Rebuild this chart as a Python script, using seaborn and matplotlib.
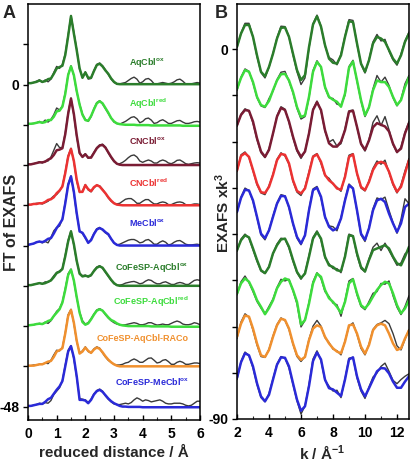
import numpy as np
import matplotlib
matplotlib.use("Agg")
import matplotlib.pyplot as plt
import seaborn as sns
from matplotlib.ticker import MultipleLocator

# ---------------- data ----------------
r_grid = [round(0.1 * i, 1) for i in range(61)]          # reduced distance / Å
k_grid = [2.0 + 0.25 * i for i in range(44)]             # k / Å^-1

labels_A = [r"AqCbl$^{\mathbf{ox}}$", r"AqCbl$^{\mathbf{red}}$", r"CNCbl$^{\mathbf{ox}}$",
            r"CNCbl$^{\mathbf{red}}$", r"MeCbl$^{\mathbf{ox}}$", r"CoFeSP-AqCbl$^{\mathbf{ox}}$",
            r"CoFeSP-AqCbl$^{\mathbf{red}}$", "CoFeSP-AqCbl-RACo", r"CoFeSP-MeCbl$^{\mathbf{ox}}$"]

# FT of EXAFS, fits (coloured) and experiment (black), relative to each baseline
ft_fit = [
 [0.2,0.2,0.3,0.4,0.6,0.4,0.5,0.8,0.9,1.6, 2.4,2.6,2.8,4.4,7.2,10.2,7.6,5.1,2.4,1.0,
  1.8,1.0,1.0,2.0,2.9,3.1,2.7,2.1,1.6,0.9, 0.4,0.1,0.05,0.05,0.05,0.05,0.05,0.05,0.05,0.05,
  0.05,0.05,0.05,0.05,0.05,0.05,0.05,0.05,0.05,0.05, 0.05,0.05,0.05,0.05,0.05,0.05,0.05,0.05,0.05,0.05, 0.05],
 [0.15,0.15,0.2,0.3,0.4,0.3,0.4,0.7,0.7,1.2, 2.0,2.1,2.7,4.6,7.4,8.7,7.4,5.0,3.0,1.5,
  0.7,0.6,1.3,2.3,3.2,3.5,3.2,2.5,1.8,1.0, 0.5,0.2,0.1,0.05,0.0,0.0,0.0,0.0,-0.05,-0.05,
  -0.05,-0.05,-0.05,-0.1,-0.1,-0.1,-0.1,-0.1,-0.1,-0.1, -0.1,-0.1,-0.1,-0.1,-0.15,-0.15,-0.15,-0.15,-0.15,-0.15, -0.15],
 [0.1,0.1,0.2,0.3,0.4,0.4,0.5,0.8,1.0,1.5, 2.2,2.3,2.5,4.6,7.6,9.9,7.6,4.4,1.8,1.2,
  1.6,1.1,1.1,1.8,2.5,2.9,3.0,2.6,1.9,1.2, 0.6,0.2,0.05,0.0,0.0,0.0,0.0,0.0,0.0,0.0,
  0.0,0.0,0.0,0.0,0.0,0.0,0.0,0.0,0.0,0.0, 0.0,0.0,0.0,0.0,0.0,0.0,0.0,0.0,0.0,0.0, 0.0],
 [0.1,0.1,0.2,0.2,0.3,0.3,0.5,0.8,0.9,1.2, 1.8,2.2,2.8,4.8,7.2,8.4,6.6,3.8,2.0,2.0,
  3.0,2.4,2.1,2.7,3.0,2.8,2.3,1.8,1.2,0.7, 0.3,0.1,0.05,0.0,0.0,0.0,0.0,0.0,0.0,0.0,
  0.0,0.0,0.0,0.0,0.0,0.0,0.0,0.0,0.0,0.0, 0.0,0.0,0.0,0.0,0.0,0.0,0.0,0.0,0.0,0.0, 0.0],
 [0.1,0.2,0.3,0.5,0.6,0.5,0.7,1.0,1.1,1.8, 2.6,3.2,3.9,6.3,9.0,10.3,8.0,4.8,2.1,1.9,
  1.2,0.4,0.8,1.7,2.4,2.6,2.4,2.0,1.7,1.0, 0.4,0.1,0.0,0.0,0.0,0.0,0.0,0.0,0.0,0.0,
  0.0,0.0,0.0,0.0,0.0,0.0,0.0,0.0,0.0,0.0, 0.0,0.0,0.0,0.0,0.0,0.0,0.0,0.0,0.0,0.0, 0.0],
 [0.1,0.1,0.2,0.3,0.4,0.3,0.4,0.6,0.8,1.3, 1.9,2.1,2.5,4.4,6.6,8.1,6.2,3.7,1.8,1.4,
  1.5,1.4,1.6,2.2,2.7,2.9,2.7,2.1,1.5,0.9, 0.4,0.1,0.0,0.0,0.0,0.0,0.0,0.0,0.0,0.0,
  0.0,0.0,0.0,0.0,0.0,0.0,0.0,0.0,0.0,0.0, 0.0,0.0,0.0,0.0,0.0,0.0,0.0,0.0,0.0,0.0, 0.0],
 [0.1,0.15,0.2,0.3,0.35,0.3,0.5,0.75,0.9,1.5, 2.0,2.5,3.5,5.4,7.6,8.4,6.8,4.3,2.0,0.6,
  0.2,0.4,1.0,1.7,2.3,2.5,2.3,1.8,1.3,0.9, 0.7,0.4,0.2,0.1,0.05,0.0,0.0,0.0,0.0,0.0,
  0.0,0.0,0.0,-0.05,-0.05,-0.05,-0.05,-0.05,-0.05,-0.05, -0.1,-0.1,-0.1,-0.1,-0.1,-0.1,-0.1,-0.1,-0.1,-0.1, -0.1],
 [0.1,0.1,0.1,0.2,0.3,0.3,0.5,0.7,0.8,1.4, 2.2,2.4,2.7,4.9,7.5,8.4,6.5,3.8,1.9,2.2,
  2.8,2.3,2.0,2.5,2.8,2.6,2.1,1.5,1.0,0.6, 0.3,0.1,0.0,0.0,0.0,0.0,0.0,0.0,0.0,0.0,
  0.0,0.0,0.0,0.0,0.0,0.0,0.0,0.0,0.0,0.0, 0.0,0.0,0.0,0.0,0.0,0.0,0.0,0.0,0.0,0.0, 0.0],
 [0.1,0.1,0.2,0.3,0.4,0.4,0.7,1.1,1.3,1.9, 2.5,3.0,3.8,6.0,8.2,9.0,7.3,4.5,1.0,1.0,
  0.9,0.5,1.0,1.8,2.3,2.5,2.2,1.7,1.2,0.8, 0.5,0.3,0.1,0.0,0.0,-0.05,-0.05,-0.05,-0.05,-0.05,
  -0.1,-0.1,-0.1,-0.1,-0.1,-0.1,-0.1,-0.1,-0.1,-0.1, -0.1,-0.1,-0.1,-0.1,-0.1,-0.1,-0.1,-0.1,-0.1,-0.1, -0.1],
]
ft_exp = [
 [0.2,0.2,0.3,0.5,0.7,0.3,0.7,0.4,0.8,1.8, 2.7,2.4,3.0,4.6,7.4,10.3,7.8,5.2,2.3,1.1,
  1.9,0.8,0.9,2.1,3.0,3.2,2.8,2.2,1.5,0.8, 0.3,0.1,0.1,0.2,0.3,0.6,0.9,1.1,0.8,0.2,
  0.4,0.8,0.9,0.6,0.1,0.1,0.2,0.3,0.2,0.1, 0.2,0.4,0.7,0.8,0.5,0.1,0.1,0.1,0.2,0.3, 0.2],
 [0.15,0.15,0.2,0.3,0.5,0.3,0.7,0.4,0.8,1.5, 2.5,2.2,2.8,4.8,7.5,8.8,7.3,4.9,3.1,1.6,
  0.8,0.5,1.2,2.4,3.3,3.6,3.1,2.4,1.7,1.0, 0.4,0.2,0.1,0.3,0.5,0.8,1.1,1.2,0.9,0.3,
  0.5,0.9,1.0,0.7,0.2,0.3,0.6,0.75,0.5,0.2, 0.2,0.4,0.6,0.65,0.4,0.2,0.2,0.3,0.45,0.5, 0.4],
 [0.1,0.1,0.2,0.3,0.5,0.3,0.6,0.6,1.2,2.2, 3.2,2.6,2.6,4.8,7.8,10.0,7.4,4.2,1.7,1.3,
  1.7,1.0,1.2,1.9,2.6,3.0,3.1,2.7,1.8,1.1, 0.5,0.2,0.2,0.4,0.7,1.1,1.4,1.5,1.2,0.6,
  0.4,0.6,0.75,0.6,0.3,0.3,0.6,0.75,0.6,0.3, 0.2,0.4,0.7,0.75,0.5,0.2,0.1,0.2,0.3,0.35, 0.3],
 [0.1,0.1,0.2,0.3,0.3,0.2,0.4,0.6,1.0,1.4, 1.6,2.1,2.9,5.0,7.4,8.5,6.5,3.6,1.9,2.1,
  3.1,2.3,2.0,2.6,3.0,2.9,2.4,1.8,1.1,0.6, 0.3,0.2,0.3,0.6,0.9,1.0,1.0,0.7,0.3,0.3,
  0.6,0.85,0.85,0.5,0.2,0.2,0.4,0.5,0.4,0.1, 0.1,0.3,0.45,0.5,0.4,0.1,0.05,0.1,0.2,0.2, 0.1],
 [0.1,0.2,0.3,0.5,0.6,0.4,0.6,0.4,1.2,2.2, 2.7,2.9,4.0,6.5,9.2,10.4,7.8,4.6,2.2,1.8,
  1.1,0.5,0.9,1.8,2.5,2.7,2.3,1.9,1.6,1.0, 0.4,0.1,0.2,0.4,0.6,0.8,0.9,0.9,0.7,0.4,
  0.5,0.8,0.9,0.6,0.2,0.2,0.5,0.7,0.5,0.1, 0.2,0.5,0.7,0.75,0.5,0.2,0.1,0.1,0.15,0.2, 0.1],
 [0.1,0.1,0.2,0.3,0.4,0.3,0.6,0.5,0.9,1.5, 2.0,2.2,2.6,4.6,6.8,8.2,6.0,3.6,1.9,1.5,
  1.6,1.3,1.5,2.3,2.8,3.0,2.6,2.0,1.4,0.8, 0.3,0.1,0.1,0.2,0.4,0.5,0.6,0.65,0.5,0.3,
  0.4,0.7,0.9,0.8,0.5,0.3,0.3,0.5,0.6,0.4, 0.2,0.2,0.4,0.5,0.4,0.2,0.2,0.5,0.8,0.9, 0.8],
 [0.1,0.15,0.2,0.3,0.4,0.3,0.6,0.4,0.8,1.5, 2.2,2.6,3.6,5.6,7.8,8.5,6.7,4.2,2.1,0.8,
  0.3,0.5,1.1,1.8,2.4,2.6,2.3,1.7,1.2,0.8, 0.5,0.3,0.2,0.15,0.2,0.3,0.4,0.5,0.4,0.2,
  0.2,0.3,0.5,0.5,0.3,0.15,0.2,0.3,0.2,0.2, 0.4,0.6,0.75,0.6,0.3,0.2,0.2,0.3,0.5,0.4, 0.2],
 [0.1,0.1,0.2,0.2,0.3,0.3,0.5,0.4,0.9,1.7, 2.4,2.3,2.8,5.0,7.7,8.5,6.4,3.7,2.0,2.3,
  2.9,2.2,2.0,2.6,2.9,2.7,2.0,1.4,0.9,0.6, 0.3,0.2,0.2,0.3,0.5,0.6,0.9,1.1,0.9,0.6,
  0.6,0.9,1.2,1.25,0.9,0.5,0.6,0.9,1.0,0.7, 0.3,0.3,0.6,0.75,0.6,0.3,0.3,0.4,0.5,0.5, 0.4],
 [0.1,0.1,0.2,0.3,0.5,0.4,0.6,0.5,0.9,1.8, 2.3,2.8,3.9,6.2,8.4,9.1,7.1,4.3,1.2,1.1,
  1.0,0.6,1.1,1.9,2.4,2.6,2.3,1.6,1.1,0.7, 0.4,0.3,0.3,0.4,0.5,0.4,0.6,1.0,1.3,1.1,
  0.8,1.0,0.9,0.7,0.8,0.9,1.0,0.8,0.5,0.4, 0.4,0.5,0.5,0.5,0.4,0.2,0.1,0.2,0.5,0.8, 0.8],
]

# EXAFS x k^3, fits and experiment, relative to each offset
ex_fit = [
 [0.6,3.8,5.9,5.9,3.0,-1.5,-5.5,-6.6,-4.3,-1.1,2.6,5.2,5.3,3.0,-1.1,-5.1,-7.5,-6.3,0.5,6.0,8.0,5.5,
  1.0,-2.3,-3.3,-3.5,-1.5,3.0,6.8,6.6,1.4,-3.5,-5.5,-2.7,1.4,3.0,2.6,1.8,-0.2,-2.3,-3.5,-1.5,1.8,3.8],
 [0.3,3.0,4.9,4.5,2.0,-1.6,-3.6,-4.0,-2.6,0.0,2.4,3.9,4.0,2.4,-0.4,-4.1,-6.5,-6.1,-1.6,4.5,6.9,5.7,
  0.8,-1.6,-2.3,-2.8,-4.0,-0.8,5.5,7.0,2.4,-2.4,-6.1,-4.1,0.0,2.4,2.0,2.0,0.8,-1.6,-3.6,-2.4,0.8,3.2],
 [1.5,4.0,5.2,5.0,2.4,-1.7,-4.9,-6.2,-4.5,-0.5,3.6,5.7,5.2,2.4,-1.3,-4.5,-6.2,-4.9,-0.5,5.2,7.1,5.2,
  0.3,-2.9,-3.7,-3.7,-2.5,0.3,4.8,5.0,1.1,-3.0,-4.5,-2.2,1.0,2.0,1.6,1.2,0.0,-3.0,-5.0,-4.2,-0.5,2.0],
 [0.5,4.0,4.7,3.8,0.6,-2.7,-4.8,-5.0,-3.5,-0.6,3.0,4.5,4.3,2.2,-1.9,-4.5,-5.1,-3.9,-0.2,3.8,4.4,2.6,
  -0.6,-1.9,-2.7,-3.9,-4.2,-1.1,3.8,4.4,-0.2,-3.5,-4.3,-2.3,0.6,2.2,2.6,2.2,0.2,-2.7,-4.7,-3.5,-0.2,3.0],
 [0.4,3.8,5.8,5.6,3.2,-0.8,-4.9,-6.0,-4.1,-0.8,2.4,4.3,4.2,1.6,-2.4,-5.7,-7.3,-5.3,0.8,5.7,6.3,4.1,
  -0.8,-3.2,-4.1,-3.6,-1.2,3.2,6.9,6.1,0.8,-4.9,-6.4,-3.6,0.8,3.2,3.6,2.8,0.0,-2.4,-4.5,-2.4,1.6,2.4],
 [1.1,3.5,4.7,4.2,1.5,-1.3,-3.8,-4.5,-3.0,0.3,2.3,3.7,3.9,1.9,-1.3,-4.2,-5.7,-4.6,-0.5,3.9,5.5,3.9,
  -0.5,-2.6,-3.0,-3.8,-4.0,-0.5,4.7,4.5,0.3,-3.0,-4.1,-1.3,1.1,1.5,1.9,2.3,1.5,-0.5,-2.1,-2.6,-0.5,1.9],
 [0.5,3.0,4.2,3.4,1.4,-1.1,-2.7,-4.5,-3.0,-1.1,1.8,3.4,4.2,3.8,1.4,-1.5,-7.0,-5.9,-1.9,3.0,5.4,4.6,
  1.4,-0.6,-1.5,-2.7,-4.2,-1.5,3.0,4.0,0.6,-2.3,-3.1,-1.9,-0.2,1.4,2.6,3.4,3.0,0.6,-2.3,-4.3,-3.1,-1.1],
 [0.0,3.2,5.2,4.9,2.0,-1.6,-4.5,-4.9,-3.2,0.0,2.8,4.4,4.1,2.0,-1.6,-4.5,-5.6,-4.9,-0.8,2.0,2.8,2.4,
  0.0,-1.6,-2.8,-3.6,-4.0,-1.2,2.8,3.0,0.8,-2.4,-4.1,-2.0,1.6,2.8,3.2,2.8,0.8,-1.6,-3.2,-2.8,-0.4,1.6],
 [0.0,3.8,6.0,5.5,2.8,-1.3,-4.5,-5.7,-4.1,-0.4,3.2,5.0,4.9,2.8,-1.3,-5.3,-8.0,-6.9,-2.0,4.1,6.2,4.5,
  -0.4,-2.5,-2.8,-3.6,-4.4,-0.4,4.5,5.0,0.4,-2.8,-4.5,-2.5,-0.4,1.6,2.4,2.3,1.1,-0.9,-2.4,-2.4,-0.9,0.4],
]
ex_exp = [
 [0.4,3.9,6.3,6.3,3.0,-1.8,-5.7,-7.0,-4.4,-1.0,2.8,5.6,5.5,3.0,-1.4,-5.5,-8.6,-7.0,0.3,6.2,8.3,5.6,
  0.8,-2.0,-2.6,-3.8,-1.2,3.2,7.2,7.0,1.2,-3.6,-5.8,-2.6,1.8,3.6,2.0,2.4,-0.5,-2.6,-3.9,-1.2,2.0,4.2],
 [0.0,3.2,5.2,4.6,1.8,-1.8,-3.8,-4.2,-2.0,-0.2,2.6,4.4,4.6,2.2,-0.6,-4.4,-7.0,-6.4,-1.8,4.8,7.2,5.6,
  0.6,-1.8,-2.0,-3.4,-3.6,-1.2,5.8,7.3,2.2,-2.6,-6.4,-4.2,0.4,3.6,2.0,3.2,1.2,-1.8,-3.8,-2.2,1.6,3.6],
 [1.2,4.2,5.5,5.0,2.0,-2.0,-5.2,-6.4,-4.2,-0.6,3.8,6.0,5.4,2.2,-1.6,-4.8,-6.6,-4.8,-0.4,5.4,7.4,5.0,
  0.0,-2.6,-2.0,-3.6,-3.0,0.6,5.0,5.2,1.0,-3.2,-4.8,-2.0,2.2,3.8,1.4,3.6,0.4,-3.2,-5.2,-3.8,-0.2,2.4],
 [0.2,4.3,5.0,3.6,0.4,-3.0,-5.0,-5.4,-3.2,-0.4,3.2,4.8,4.0,2.0,-2.2,-4.8,-5.6,-3.6,0.2,4.0,4.6,2.2,
  -0.8,-1.4,-2.8,-3.6,-4.6,-0.8,4.2,4.6,-0.4,-3.8,-4.5,-2.0,1.0,2.8,2.0,3.0,0.0,-3.0,-5.0,-3.0,0.4,3.4],
 [0.2,4.0,6.2,5.6,3.0,-1.0,-5.2,-6.4,-4.0,-0.6,2.6,4.6,4.3,1.4,-2.6,-6.0,-7.6,-5.2,1.0,6.0,6.6,3.8,
  -1.0,-3.0,-3.2,-4.2,-1.0,3.4,7.2,6.2,0.6,-5.2,-6.8,-3.4,1.2,3.8,3.4,4.0,0.8,-2.2,-4.8,-1.4,3.6,2.4],
 [0.8,3.8,5.0,4.0,1.2,-1.6,-4.0,-4.6,-2.8,0.2,2.6,4.0,3.8,1.6,-1.6,-4.4,-6.0,-4.4,-0.2,4.2,5.8,3.6,
  -0.8,-2.2,-3.4,-3.4,-4.4,-0.2,5.0,4.6,-0.2,-3.4,-4.2,-1.0,1.8,2.8,1.0,2.8,1.0,-0.8,-2.6,-2.0,0.2,1.0],
 [0.2,3.4,4.8,3.2,1.0,-1.4,-3.0,-4.4,-2.6,-0.8,2.0,4.0,3.6,4.0,1.2,-2.0,-7.6,-6.0,-1.6,3.4,5.6,4.2,
  1.0,-0.2,-1.8,-2.2,-5.0,-1.2,3.6,4.2,0.2,-2.6,-3.4,-1.4,0.6,1.0,3.0,2.8,3.6,0.0,-2.8,-4.6,-2.6,0.0],
 [-0.4,3.6,5.6,4.8,1.6,-2.0,-4.8,-5.0,-3.0,0.2,3.0,4.6,4.0,1.8,-1.8,-4.8,-6.0,-4.8,-0.6,2.6,4.0,2.6,
  -0.2,-1.4,-3.0,-3.4,-4.4,-1.0,2.6,3.4,0.6,-2.8,-4.4,-1.8,1.8,3.0,3.4,4.0,3.2,0.8,-2.2,-3.2,-0.6,1.8],
 [-0.4,4.0,6.3,5.4,2.4,-1.6,-4.8,-5.8,-3.8,-0.2,3.4,5.2,4.8,2.4,-1.6,-5.6,-8.8,-6.8,-1.6,4.6,6.6,4.2,
  -0.6,-2.0,-3.2,-3.0,-4.8,-0.2,4.8,5.0,0.0,-3.2,-5.0,-2.2,0.2,1.2,2.8,3.6,1.6,-0.6,-1.4,-0.4,0.4,1.0],
]

# ---------------- style ----------------
sns.set_theme(style="ticks")
plt.rcParams['font.family'] = ['Liberation Sans', 'DejaVu Sans']
plt.rcParams['font.weight'] = 'bold'
plt.rcParams['mathtext.fontset'] = 'custom'
plt.rcParams['mathtext.bf'] = 'Liberation Sans:bold'
plt.rcParams['mathtext.rm'] = 'Liberation Sans:bold'
plt.rcParams['mathtext.it'] = 'Liberation Sans:bold'

DG, LG, MR, RD, BL, OR = '#2b7d2b', '#3ddc3d', '#7a1c34', '#ec3232', '#2a2ad8', '#f0902e'
colors = [DG, LG, MR, RD, BL, DG, LG, OR, BL]
EXPC = '#3a3a3a'

W, H = 415, 463
fig = plt.figure(figsize=(W / 100, H / 100), dpi=100)
axA = fig.add_axes([28 / W, 43 / H, 172 / W, 416 / H])
axB = fig.add_axes([237 / W, 44 / H, 172 / W, 415 / H])

r = np.array(r_grid)
k = np.array(k_grid)
for i in range(9):
    offA = -6 * i
    sns.lineplot(x=r, y=np.array(ft_exp[i]) + offA, ax=axA, color=EXPC, lw=1.0,
                 estimator=None, sort=False)
    sns.lineplot(x=r, y=np.array(ft_fit[i]) + offA, ax=axA, color=colors[i], lw=1.8,
                 estimator=None, sort=False)
    offB = -10 * i
    sns.lineplot(x=k, y=np.array(ex_exp[i]) + offB, ax=axB, color=EXPC, lw=1.0,
                 estimator=None, sort=False)
    sns.lineplot(x=k, y=np.array(ex_fit[i]) + offB, ax=axB, color=colors[i], lw=1.8,
                 estimator=None, sort=False)

# curve labels in panel A
lab_y = [3.3, -2.8, -8.4, -14.7, -20.5, -27.2, -32.4, -37.8, -44.3]
for i in range(9):
    if i < 5:
        axA.text(3.52, lab_y[i], labels_A[i], color=colors[i], fontsize=6.5,
                 fontweight='bold', ha='left', va='center')
    else:
        axA.text(5.6, lab_y[i], labels_A[i], color=colors[i], fontsize=6.5,
                 fontweight='bold', ha='right', va='center')

# axes A
axA.set_xlim(0, 6)
axA.set_ylim(-50, 12)
axA.set_xticks([0, 1, 2, 3, 4, 5, 6])
axA.xaxis.set_minor_locator(MultipleLocator(0.5))
ytA = [6, 0, -6, -12, -18, -24, -30, -36, -42, -48]
axA.set_yticks(ytA)
axA.set_yticklabels(['' if v not in (0, -48) else str(v) for v in ytA])
axA.set_xlabel('')
axA.set_ylabel('')

# axes B
axB.set_xlim(2, 12.75)
axB.set_ylim(-90, 11)
axB.set_xticks([2, 4, 6, 8, 10, 12])
axB.xaxis.set_minor_locator(MultipleLocator(1))
ytB = [0 - 11.25 * j for j in range(9)]
axB.set_yticks(ytB)
axB.set_yticklabels(['0' if j == 0 else ('-90' if j == 8 else '') for j in range(9)])
axB.set_xlabel('')
axB.set_ylabel('')

for ax in (axA, axB):
    for s in ax.spines.values():
        s.set_visible(True)
        s.set_linewidth(1.1)
        s.set_color('black')
    ax.tick_params(axis='x', which='major', direction='in', length=3.5, width=1,
                   labelsize=10, pad=5, colors='black')
    ax.tick_params(axis='x', which='minor', direction='in', length=2, width=0.8)
    ax.tick_params(axis='y', which='major', direction='out', length=3.5, width=1,
                   labelsize=10, pad=2.5, colors='black')
    for t in ax.get_xticklabels() + ax.get_yticklabels():
        t.set_fontweight('bold')

# panel letters and axis titles
fig.text(9 / W, 1 - 14 / H, 'A', fontsize=13, fontweight='bold', ha='center', va='center')
fig.text(221 / W, 1 - 14 / H, 'B', fontsize=13, fontweight='bold', ha='center', va='center')
fig.text(11 / W, 1 - 222 / H, 'FT of EXAFS', rotation=90, fontsize=11.5, fontweight='bold',
         ha='center', va='center')
fig.text(223 / W, 1 - 213 / H, r'EXAFS xk$^{\mathbf{3}}$', rotation=90, fontsize=11,
         fontweight='bold', ha='center', va='center')
fig.text(114 / W, 1 - 453 / H, 'reduced distance / Å', fontsize=11, fontweight='bold',
         ha='center', va='center')
fig.text(322 / W, 1 - 453 / H, r'k / Å$^{\mathbf{-1}}$', fontsize=11, fontweight='bold',
         ha='center', va='center')

fig.savefig('out.png', dpi=100)
